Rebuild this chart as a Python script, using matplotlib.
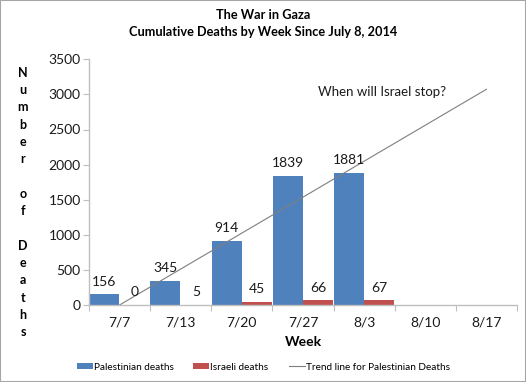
import matplotlib
matplotlib.use('Agg')
import matplotlib.pyplot as plt
import numpy as np

# data
weeks = ['7/7', '7/13', '7/20', '7/27', '8/3', '8/10', '8/17']
palestinian = [156, 345, 914, 1839, 1881]
israeli = [0, 5, 45, 66, 67]
trend_x = [0, 6]          # category index of start / end of trend line
trend_y = [0, 3073]

plt.rcParams['font.family'] = ['Lato', 'DejaVu Sans']

fig = plt.figure(figsize=(5.26, 3.82), dpi=100)
ax = fig.add_axes([89 / 526, 1 - 305 / 382, 428 / 526, 245.7 / 382])

blue = '#4F81BD'
red = '#C0504D'
grey = '#BFBFBF'

x = np.arange(len(palestinian))
w = 0.49
b1 = ax.bar(x + 0.25, palestinian, width=w, color=blue, label='Palestinian deaths')
b2 = ax.bar(x + 0.75, israeli, width=w, color=red, label='Israeli deaths')
ln, = ax.plot(np.array(trend_x) + 0.5, trend_y, color='#7F7F7F', lw=0.8,
              label='Trend line for Palestinian Deaths')

for bars, vals in ((b1, palestinian), (b2, israeli)):
    for r, v in zip(bars, vals):
        ax.annotate(str(v), (r.get_x() + r.get_width() / 2, v),
                    xytext=(0, 9), textcoords='offset points',
                    ha='center', va='center', fontsize=10, color='#1a1a1a')

ax.text(0.535, 0.865, 'When will Israel stop?', transform=ax.transAxes,
        fontsize=9.5, color='#1a1a1a', ha='left', va='center')

ax.set_xlim(0, len(weeks))
ax.set_ylim(0, 3500)
ax.set_yticks(np.arange(0, 3501, 500))
ax.set_xticks(np.arange(0, len(weeks) + 1))
ax.set_xticklabels([])
ax.set_xticks(np.arange(len(weeks)) + 0.5, minor=True)
ax.set_xticklabels(weeks, minor=True)
ax.tick_params(axis='x', which='major', length=4, color=grey, direction='out')
ax.tick_params(axis='x', which='minor', length=0, pad=8, labelsize=10,
               labelcolor='#1a1a1a')
ax.tick_params(axis='y', length=4, color=grey, pad=2, labelsize=10,
               labelcolor='#1a1a1a')
for s in ('top', 'right'):
    ax.spines[s].set_visible(False)
for s in ('left', 'bottom'):
    ax.spines[s].set_color(grey)
    ax.spines[s].set_linewidth(1)

ax.set_xlabel('Week', fontsize=10, fontweight='bold', labelpad=6)

fig.text(0.5, 1 - 15 / 382, 'The War in Gaza', ha='center', va='center',
         fontsize=9.2, fontweight='bold')
fig.text(0.5, 1 - 32 / 382, 'Cumulative Deaths by Week Since July 8, 2014',
         ha='center', va='center', fontsize=9.2, fontweight='bold')

fig.text(23 / 526, 1 - 202.5 / 382, '\n'.join(list('Number of Deaths')),
         ha='center', va='center', fontsize=9, fontweight='bold',
         linespacing=1.53)

fig.legend(handles=[b1, b2, ln], loc='center',
           bbox_to_anchor=(0.5, 1 - 367 / 382), ncol=3,
           frameon=False, fontsize=7.2, handlelength=1.6, handleheight=0.6,
           handletextpad=0.1, columnspacing=2.0)

fig.patches.append(plt.Rectangle((0, 0), 1, 1, transform=fig.transFigure,
                                 fill=False, edgecolor='#A6A6A6', lw=1.5))

fig.savefig('out.png', dpi=100)
